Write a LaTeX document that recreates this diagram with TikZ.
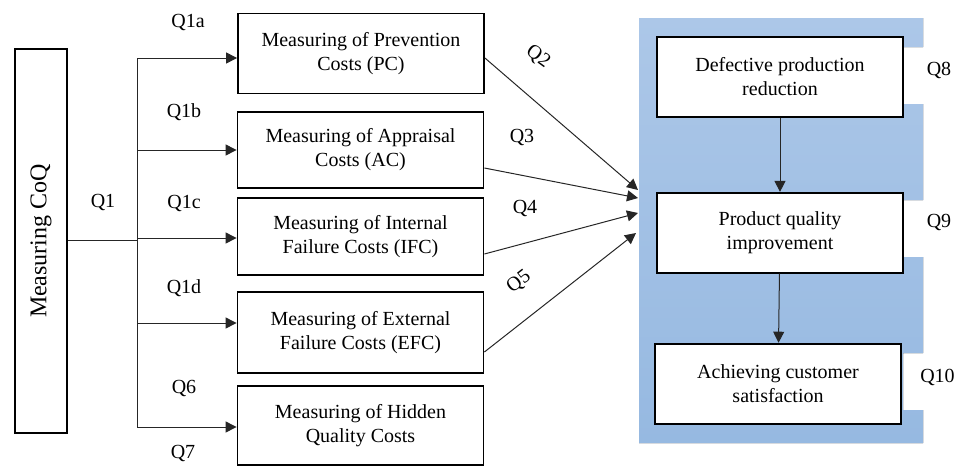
\documentclass[tikz,border=0pt]{standalone}
\usepackage{fontspec}
\setmainfont{Liberation Serif}
\usetikzlibrary{
	arrows.meta,
	positioning,
	calc,
	backgrounds
}
\definecolor{paneltop}{RGB}{172,199,232}
\definecolor{panelbot}{RGB}{150,185,225}

\begin{document}
\begin{tikzpicture}[
    x=0.5pt, y=-0.5pt,
    block/.style={rectangle, draw, line width=0.9pt, fill=white, minimum width=123pt, minimum height=40pt, align=center, inner sep=2pt, font=\fontsize{10}{12}\selectfont},
    arrow/.style={line width=0.5pt, draw=black!85, -{Triangle[length=5.5pt,width=5.5pt]}},
    link/.style={line width=0.5pt, draw=black!85},
    qlabel/.style={inner sep=1pt, font=\fontsize{10}{12}\selectfont}
]
\useasboundingbox (0,0) rectangle (962,466);

% Outcome panel
\fill[top color=paneltop, bottom color=panelbot] (639,18) -- (923,18) -- (923,47) -- (903,47) -- (903,104) -- (923,104) -- (923,200) -- (903,200) -- (903,257) -- (923,257) -- (923,353) -- (903,353) -- (903,410) -- (923,410) -- (923,443) -- (639,443) -- cycle;

% Main construct
\node[block, minimum width=26pt, minimum height=192pt, inner sep=0pt] (coq) at (41,241) {\rotatebox{90}{\fontsize{12}{14}\selectfont Measuring CoQ}};

% Cost measures
\node[block] (pc) at (361,53.5) {Measuring of Prevention\\Costs (PC)};
\node[block, minimum height=38pt] (ac) at (360.5,150) {Measuring of Appraisal\\Costs (AC)};
\node[block, minimum height=38.5pt] (ifc) at (360.5,236.5) {Measuring of Internal\\Failure Costs (IFC)};
\node[block, minimum height=40.5pt] (efc) at (360.5,332.5) {Measuring of External\\Failure Costs (EFC)};
\node[block, minimum height=39.5pt] (hqc) at (360.5,425.5) {Measuring of Hidden\\Quality Costs};

% Outcomes
\node[block] (dpr) at (780,77) {Defective production\\reduction};
\node[block, below=37pt of dpr] (pqi) {Product quality\\improvement};
\node[block, below=34.5pt of pqi, xshift=-1pt] (acs) {Achieving customer\\satisfaction};

% Branching from CoQ
\coordinate (split) at (137,240);
\draw[link] (coq.east |- split) -- (split);
\foreach \y/\n [count=\i] in {58/pc,150/ac,238/ifc,323/efc,427/hqc} {
    \coordinate (b\i) at (137,\y);
    \draw[arrow] (b\i) -- (b\i -| \n.west);
}
\draw[link] (b1) -- (b5);

% Arrows into the outcome panel
\coordinate (in2) at (638,190);
\coordinate (in3) at (638,198);
\coordinate (in4) at (638,213);
\coordinate (in5) at (636,233);
\draw[arrow] ([yshift=-2.25pt]pc.east) -- (in2);
\draw[arrow] ([yshift=-9pt]ac.east) -- (in3);
\draw[arrow] ([yshift=-8.75pt]ifc.east) -- (in4);
\draw[arrow] ([yshift=-9.75pt]efc.east) -- (in5);

% Outcome chain
\draw[arrow] (dpr) -- (pqi);
\draw[arrow] (pqi) -- (acs);

% Labels
\node[qlabel] (q1) at (103,202) {Q1};
\node[qlabel] (q1a) at (188,22) {Q1a};
\node[qlabel] (q1b) at (184,112) {Q1b};
\node[qlabel] (q1c) at (184,203) {Q1c};
\node[qlabel] (q1d) at (184,288) {Q1d};
\node[qlabel] (q6) at (184,388) {Q6};
\node[qlabel] (q7) at (183,453) {Q7};
\node[qlabel, rotate=-36] (q2) at (538,57) {Q2};
\node[qlabel] (q3) at (522,137) {Q3};
\node[qlabel] (q4) at (525,208) {Q4};
\node[qlabel, rotate=38] (q5) at (519,282) {Q5};
\node[qlabel] (q8) at (939,70) {Q8};
\node[qlabel] (q9) at (939,222) {Q9};
\node[qlabel] (q10) at (937.5,377) {Q10};

\end{tikzpicture}
\end{document}
